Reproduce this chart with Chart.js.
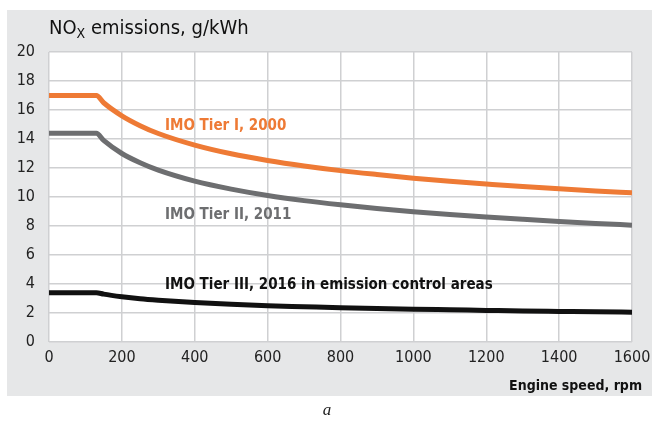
<!DOCTYPE html>
<html>
<head>
<meta charset="utf-8">
<script src="https://cdn.jsdelivr.net/npm/chart.js@4.4.0/dist/chart.umd.min.js"></script>
<style>
  html, body { margin: 0; padding: 0; background: #ffffff; }
  #wrap { position: relative; width: 654px; height: 423px; }
</style>
</head>
<body>
<div id="wrap"><canvas id="noxChart" width="654" height="423"></canvas></div>
<script>
// engine speed, rpm
const speeds = [0, 130, 150, 200, 250, 300, 400, 500, 600, 700, 800, 900, 1000, 1100, 1200, 1300, 1400, 1500, 1600];
// NOx limits, g/kWh
const tierI   = [17.0, 17.0, 16.5, 15.6, 14.92, 14.38, 13.58, 12.98, 12.52, 12.14, 11.82, 11.55, 11.3, 11.09, 10.9, 10.72, 10.57, 10.42, 10.29];
const tierII  = [14.4, 14.4, 13.9, 13.0, 12.36, 11.85, 11.09, 10.54, 10.1, 9.75, 9.46, 9.2, 8.98, 8.79, 8.62, 8.46, 8.31, 8.18, 8.06];
const tierIII = [3.4, 3.4, 3.3, 3.12, 2.98, 2.88, 2.72, 2.6, 2.5, 2.43, 2.36, 2.31, 2.26, 2.22, 2.18, 2.14, 2.11, 2.08, 2.06];
const xTicks = [0, 200, 400, 600, 800, 1000, 1200, 1400, 1600];
const yTicks = [0, 2, 4, 6, 8, 10, 12, 14, 16, 18, 20];

const seriesNames = ["IMO Tier I, 2000", "IMO Tier II, 2011", "IMO Tier III, 2016 in emission control areas"];
const seriesColors = ["#ee7a35", "#6d6e70", "#111111"];

const narrow = "'Liberation Sans Narrow', 'DejaVu Sans Condensed', 'Arial Narrow', sans-serif";

function pts(vals) {
  return speeds.map((s, i) => ({ x: s, y: vals[i] }));
}

// gray panel + white plot area + texts
const decor = {
  id: "decor",
  beforeDraw(chart) {
    const ctx = chart.ctx, a = chart.chartArea;
    ctx.save();
    ctx.fillStyle = "#e6e7e8";
    ctx.fillRect(7, 10, 645, 386);
    ctx.fillStyle = "#ffffff";
    ctx.fillRect(a.left, a.top, a.right - a.left, a.bottom - a.top);
    ctx.restore();
  },
  afterDraw(chart) {
    const ctx = chart.ctx;
    ctx.save();
    ctx.textBaseline = "alphabetic";
    // title with subscript
    ctx.fillStyle = "#111";
    ctx.font = "20px " + narrow;
    let x = 49, y = 34;
    ctx.fillText("NO", x, y);
    x += ctx.measureText("NO").width;
    ctx.font = "14px " + narrow;
    ctx.fillText("X", x, y + 4);
    x += ctx.measureText("X").width;
    ctx.font = "20px " + narrow;
    ctx.fillText(" emissions, g/kWh", x, y);

    // axis title
    ctx.font = "bold 14px " + narrow;
    ctx.textAlign = "right";
    ctx.fillText("Engine speed, rpm", 642, 390);

    // series labels
    ctx.textAlign = "left";
    ctx.font = "bold 15px " + narrow;
    const labY = [130, 219, 289];
    seriesNames.forEach((n, i) => {
      ctx.fillStyle = seriesColors[i];
      ctx.fillText(n, 165, labY[i]);
    });

    // caption
    ctx.fillStyle = "#222";
    ctx.textAlign = "center";
    ctx.font = "italic 17px 'Liberation Serif', serif";
    ctx.fillText("a", 327, 415);
    ctx.restore();
  }
};

new Chart(document.getElementById("noxChart"), {
  type: "line",
  data: {
    datasets: [tierI, tierII, tierIII].map((v, i) => ({
      label: seriesNames[i],
      data: pts(v),
      borderColor: seriesColors[i],
      borderWidth: 5,
      pointRadius: 0,
      cubicInterpolationMode: "monotone",
      fill: false
    }))
  },
  options: {
    responsive: false,
    animation: false,
    layout: { padding: { left: 0, top: 52, right: 22, bottom: 0 } },
    plugins: { legend: { display: false }, tooltip: { enabled: false } },
    scales: {
      x: {
        type: "linear",
        min: 0, max: 1600,
        afterBuildTicks(scale) { scale.ticks = xTicks.map(v => ({ value: v })); },
        afterFit(scale) {
          scale.height = 81;
          scale.paddingLeft = 0;
          scale.paddingRight = 0;
        },
        grid: { color: "#cfd0d2", lineWidth: 1.5, drawTicks: false },
        border: { display: false },
        ticks: {
          color: "#222", padding: 6, font: { size: 16, family: narrow },
          callback: v => String(v)
        }
      },
      y: {
        min: 0, max: 20,
        afterBuildTicks(scale) { scale.ticks = yTicks.map(v => ({ value: v })); },
        afterFit(scale) {
          scale.width = 49;
          scale.paddingTop = 0;
          scale.paddingBottom = 0;
        },
        grid: { color: "#cfd0d2", lineWidth: 1.5, drawTicks: false },
        border: { display: false },
        ticks: { color: "#222", padding: 14, font: { size: 16, family: narrow } }
      }
    }
  },
  plugins: [decor]
});
</script>
</body>
</html>
